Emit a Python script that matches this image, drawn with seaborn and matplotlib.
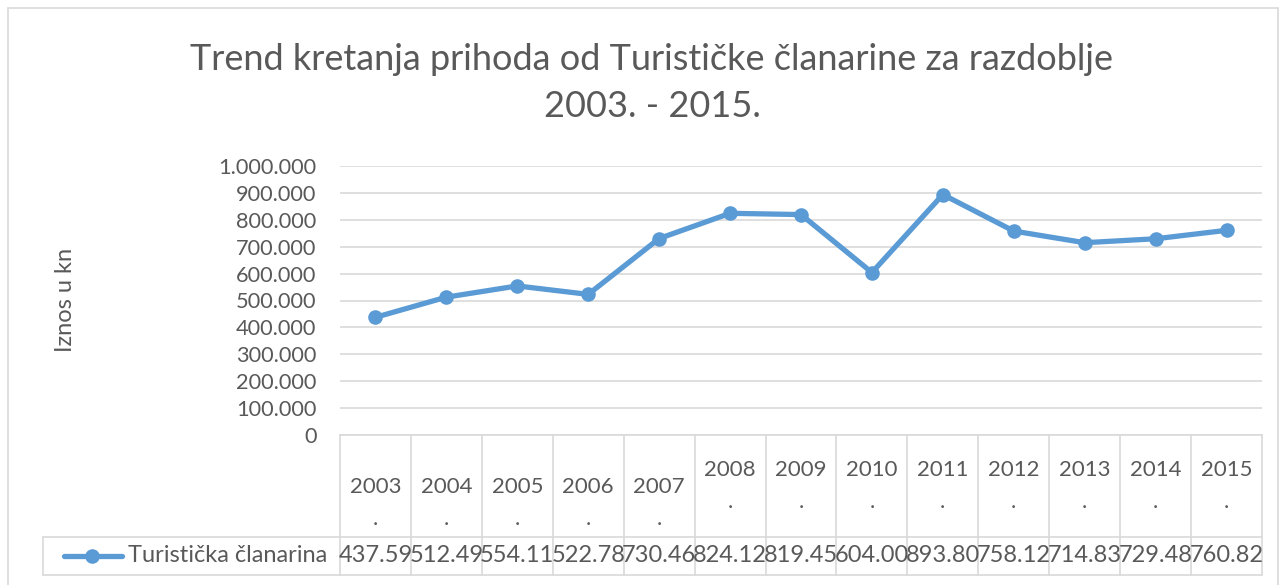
from matplotlib import pyplot as plt
from matplotlib.ticker import FuncFormatter, MultipleLocator
import matplotlib.transforms as mtransforms
import seaborn as sns
import pandas as pd

years = ['2003', '2004', '2005', '2006', '2007', '2008', '2009',
         '2010', '2011', '2012', '2013', '2014', '2015']
prihod = [437590, 512490, 554110, 522780, 730460, 824120, 819450,
          604000, 893800, 758120, 714830, 729480, 760820]
series_name = 'Turistička članarina'

df = pd.DataFrame({'idx': range(len(years)), 'godina': years, 'iznos': prihod})

sns.set_style('white')
plt.rcParams['font.family'] = ['Lato', 'DejaVu Sans']

W, H = 1284, 585
fig = plt.figure(figsize=(W / 100, H / 100), dpi=100)
ax = fig.add_axes([340 / W, 1 - 435 / H, (1262 - 340) / W, (435 - 166) / H])

blue = '#5B9BD5'
grey_txt = '#595959'
grid_c = '#D9D9D9'

sns.lineplot(data=df, x='idx', y='iznos', ax=ax, color=blue, linewidth=3.8,
             marker='o', markersize=10.5, markeredgewidth=0, legend=False)

ax.set_xlim(-0.5, len(years) - 0.5)
ax.set_ylim(0, 1000000)
ax.yaxis.set_major_locator(MultipleLocator(100000))
ax.yaxis.set_major_formatter(FuncFormatter(lambda v, p: f'{int(v):,}'.replace(',', '.')))
ax.grid(axis='y', color=grid_c, linewidth=1.2)
ax.set_axisbelow(True)
for s in ['top', 'right', 'left']:
    ax.spines[s].set_visible(False)
ax.spines['bottom'].set_color(grid_c)
ax.spines['bottom'].set_linewidth(1.2)
ax.tick_params(axis='y', length=0, labelsize=15.7, labelcolor=grey_txt, pad=17)
ax.set_xticks([])
ax.set_xlabel('')
ax.set_ylabel('')

# data table under the axis
trans = mtransforms.blended_transform_factory(ax.transData, fig.transFigure)
y_top = 1 - 435 / H
y_mid = 1 - 537 / H
y_bot = 1 - 575 / H
for i in range(len(years) + 1):
    ax.plot([i - 0.5, i - 0.5], [y_top, y_bot], transform=trans, color=grid_c,
            lw=1.2, clip_on=False)
fig.add_artist(plt.Line2D([43 / W, 1262 / W], [y_mid, y_mid], color=grid_c, lw=1.2))
fig.add_artist(plt.Line2D([43 / W, 1262 / W], [y_bot, y_bot], color=grid_c, lw=1.2))
fig.add_artist(plt.Line2D([43 / W, 43 / W], [y_mid, y_bot], color=grid_c, lw=1.2))

for i, (g, v) in enumerate(zip(years, prihod)):
    yc = 503 if i < 5 else 486
    ax.text(i, 1 - yc / H, g + '\n.', transform=trans, ha='center', va='center',
            fontsize=16, color=grey_txt, linespacing=1.8)
    ax.text(i, 1 - 556 / H, f'{v / 1000:.2f}', transform=trans, ha='center',
            va='center', fontsize=17, color=grey_txt)

# legend key inside the table
fig.add_artist(plt.Line2D([64 / W, 122 / W], [1 - 556 / H, 1 - 556 / H], color=blue, lw=3.8))
fig.add_artist(plt.Line2D([92 / W], [1 - 556 / H], color=blue, marker='o', markersize=10.5,
                          markeredgewidth=0))
fig.text(128 / W, 1 - 556 / H, series_name, ha='left', va='center', fontsize=17,
         color=grey_txt)

fig.text(652 / W, 1 - 83 / H, 'Trend kretanja prihoda od Turističke članarine za razdoblje\n2003. - 2015.',
         ha='center', va='center', fontsize=26, color=grey_txt, linespacing=1.5)
fig.text(65 / W, 1 - 300 / H, 'Iznos u kn', rotation=90, ha='center', va='center',
         fontsize=17, color=grey_txt)

# chart border
fig.add_artist(plt.Rectangle((8 / W, -0.01), (1278 - 8) / W, 1 - 8 / H + 0.01,
                             fill=False, edgecolor=grid_c, lw=1.2))

fig.savefig('out.png', dpi=100)
